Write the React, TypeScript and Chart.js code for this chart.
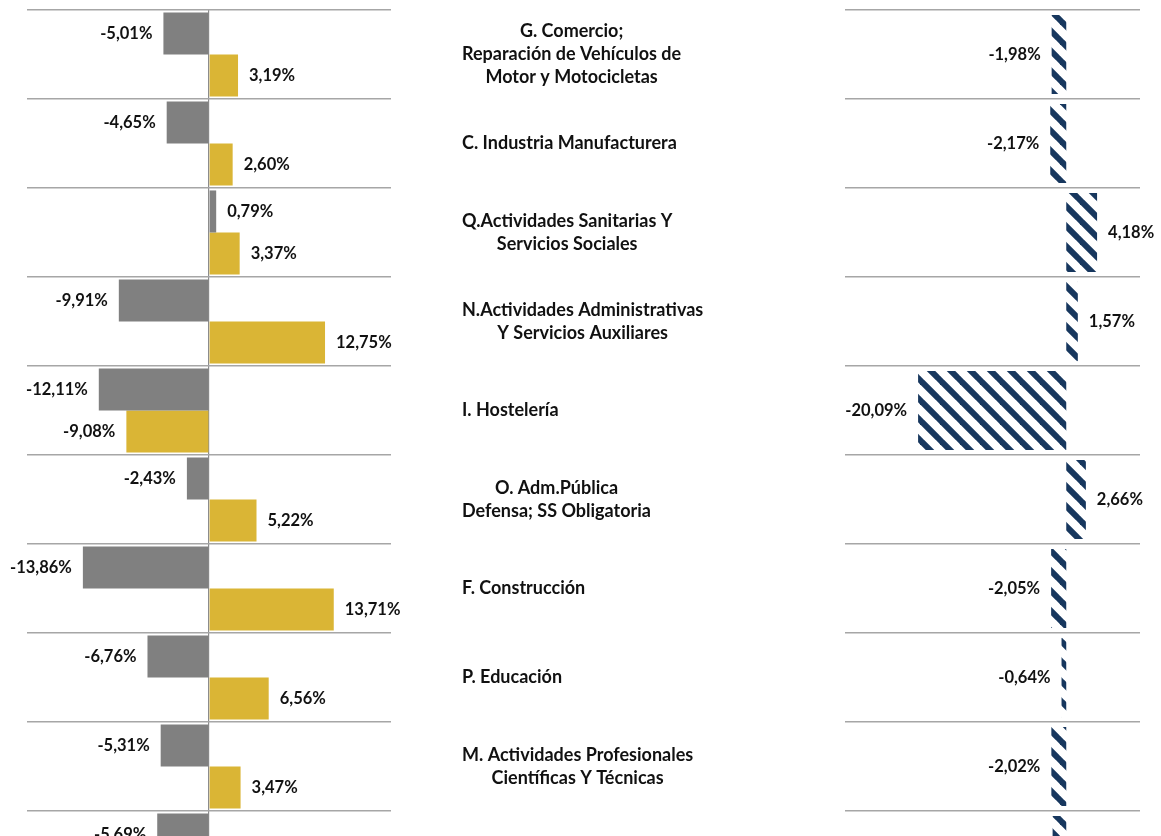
import React, { useEffect, useRef } from 'react';
import { Chart, registerables } from 'chart.js';

Chart.register(...registerables);

// ---- Data ----
const categories: string[][] = [
  ['G. Comercio;', 'Reparación de Vehículos de', 'Motor y Motocicletas'],
  ['C. Industria Manufacturera'],
  ['Q.Actividades Sanitarias Y', 'Servicios Sociales'],
  ['N.Actividades Administrativas', 'Y Servicios Auxiliares'],
  ['I. Hostelería'],
  ['O. Adm.Pública', 'Defensa; SS Obligatoria'],
  ['F. Construcción'],
  ['P. Educación'],
  ['M. Actividades Profesionales', 'Científicas Y Técnicas'],
  ['H. Transporte y Almacenamiento'],
];
const seriesGray: number[] = [-5.01, -4.65, 0.79, -9.91, -12.11, -2.43, -13.86, -6.76, -5.31, -5.69];
const seriesGold: number[] = [3.19, 2.6, 3.37, 12.75, -9.08, 5.22, 13.71, 6.56, 3.47, 2.9];
const seriesNavy: number[] = [-1.98, -2.17, 4.18, 1.57, -20.09, 2.66, -2.05, -0.64, -2.02, -1.85];

const leftRange = [-20, 20];
const rightRange = [-30, 10];

// ---- Styles ----
const FONT = 'Lato, "Open Sans", "Liberation Sans", sans-serif';
const GRAY = '#808080';
const GOLD = '#DAB535';
const NAVY = '#17375E';
const GRID = '#a6a6a6';
const TEXT = '#111111';
const CANVAS_H = 910;
const LABEL_LEFT = 62;
const LINE_H = 23;

function fmt(v: number) {
  return v.toFixed(2).replace('.', ',') + '%';
}

const valueLabels = {
  id: 'valueLabels',
  afterDatasetsDraw(chart: any) {
    const ctx = chart.ctx;
    ctx.save();
    ctx.font = `bold 16.5px ${FONT}`;
    ctx.fillStyle = TEXT;
    ctx.textBaseline = 'middle';
    chart.data.datasets.forEach((ds: any, di: number) => {
      const meta = chart.getDatasetMeta(di);
      meta.data.forEach((el: any, i: number) => {
        const v = ds.data[i] as number;
        const gap = 11;
        if (v < 0) {
          ctx.textAlign = 'right';
          ctx.fillText(fmt(v), el.x - gap, el.y);
        } else {
          ctx.textAlign = 'left';
          ctx.fillText(fmt(v), el.x + gap, el.y);
        }
      });
    });
    ctx.restore();
  },
};

const categoryLabels = {
  id: 'categoryLabels',
  afterDraw(chart: any) {
    const ctx = chart.ctx;
    const yScale = chart.scales.y;
    ctx.save();
    ctx.font = `bold 18px ${FONT}`;
    ctx.fillStyle = TEXT;
    ctx.textBaseline = 'middle';
    ctx.textAlign = 'center';
    categories.forEach((lines, i) => {
      const cy = yScale.getPixelForValue(i);
      const w = Math.max(...lines.map((l) => ctx.measureText(l).width));
      const cx = LABEL_LEFT + w / 2;
      lines.forEach((l, k) => {
        ctx.fillText(l, cx, cy + (k - (lines.length - 1) / 2) * LINE_H);
      });
    });
    ctx.restore();
  },
};

function makePattern(): CanvasPattern | string {
  const c = document.createElement('canvas');
  const s = 20;
  c.width = s;
  c.height = s;
  const g = c.getContext('2d');
  if (!g) return NAVY;
  g.fillStyle = '#ffffff';
  g.fillRect(0, 0, s, s);
  g.strokeStyle = NAVY;
  g.lineWidth = 6;
  for (const k of [-s, 0, s]) {
    g.beginPath();
    g.moveTo(k - 2, -2);
    g.lineTo(k + s + 2, s + 2);
    g.stroke();
  }
  const p = g.createPattern(c, 'repeat');
  return p || NAVY;
}

const labelsJoined = categories.map((c) => c.join(' '));

export default function App() {
  const leftRef = useRef<HTMLCanvasElement | null>(null);
  const rightRef = useRef<HTMLCanvasElement | null>(null);

  useEffect(() => {
    if (!leftRef.current || !rightRef.current) return;

    const hiddenAxisBase = {
      display: true,
      ticks: { display: false },
      border: { display: false },
    };

    const left = new Chart(leftRef.current, {
      type: 'bar',
      data: {
        labels: labelsJoined,
        datasets: [
          {
            label: 'Serie 1',
            data: seriesGray,
            backgroundColor: GRAY,
            categoryPercentage: 0.945,
            barPercentage: 1,
          },
          {
            label: 'Serie 2',
            data: seriesGold,
            backgroundColor: GOLD,
            categoryPercentage: 0.945,
            barPercentage: 1,
          },
        ],
      },
      options: {
        indexAxis: 'y',
        responsive: false,
        animation: false,
        events: [],
        layout: { padding: { left: 27, right: 9, top: 10, bottom: 10 } },
        plugins: { legend: { display: false }, tooltip: { enabled: false } },
        scales: {
          x: {
            ...hiddenAxisBase,
            min: leftRange[0],
            max: leftRange[1],
            ticks: { display: false, stepSize: 5 },
            grid: {
              drawTicks: false,
              lineWidth: 1.2,
              color: (ctx: any) => (ctx.tick && ctx.tick.value === 0 ? '#8c8c8c' : 'rgba(0,0,0,0)'),
            },
          },
          y: {
            ...hiddenAxisBase,
            grid: { drawTicks: false, color: GRID, lineWidth: 1.5, offset: true },
          },
        },
      },
      plugins: [valueLabels],
    } as any);

    const pattern = makePattern();

    const right = new Chart(rightRef.current, {
      type: 'bar',
      data: {
        labels: labelsJoined,
        datasets: [
          {
            label: 'Serie 3',
            data: seriesNavy,
            backgroundColor: pattern as any,
            categoryPercentage: 0.89,
            barPercentage: 1,
          },
        ],
      },
      options: {
        indexAxis: 'y',
        responsive: false,
        animation: false,
        events: [],
        layout: { padding: { left: 445, right: 21, top: 10, bottom: 10 } },
        plugins: { legend: { display: false }, tooltip: { enabled: false } },
        scales: {
          x: {
            ...hiddenAxisBase,
            min: rightRange[0],
            max: rightRange[1],
            grid: { display: false, drawTicks: false },
          },
          y: {
            ...hiddenAxisBase,
            grid: { drawTicks: false, color: GRID, lineWidth: 1.5, offset: true },
          },
        },
      },
      plugins: [valueLabels, categoryLabels],
    } as any);

    return () => {
      left.destroy();
      right.destroy();
    };
  }, []);

  return (
    <div
      style={{
        position: 'fixed',
        left: 0,
        top: 0,
        width: 1161,
        height: 836,
        overflow: 'hidden',
        background: '#ffffff',
      }}
    >
      <canvas
        ref={leftRef}
        width={400}
        height={CANVAS_H}
        style={{ position: 'absolute', left: 0, top: 0, width: 400, height: CANVAS_H }}
      />
      <canvas
        ref={rightRef}
        width={761}
        height={CANVAS_H}
        style={{ position: 'absolute', left: 400, top: 0, width: 761, height: CANVAS_H }}
      />
    </div>
  );
}
